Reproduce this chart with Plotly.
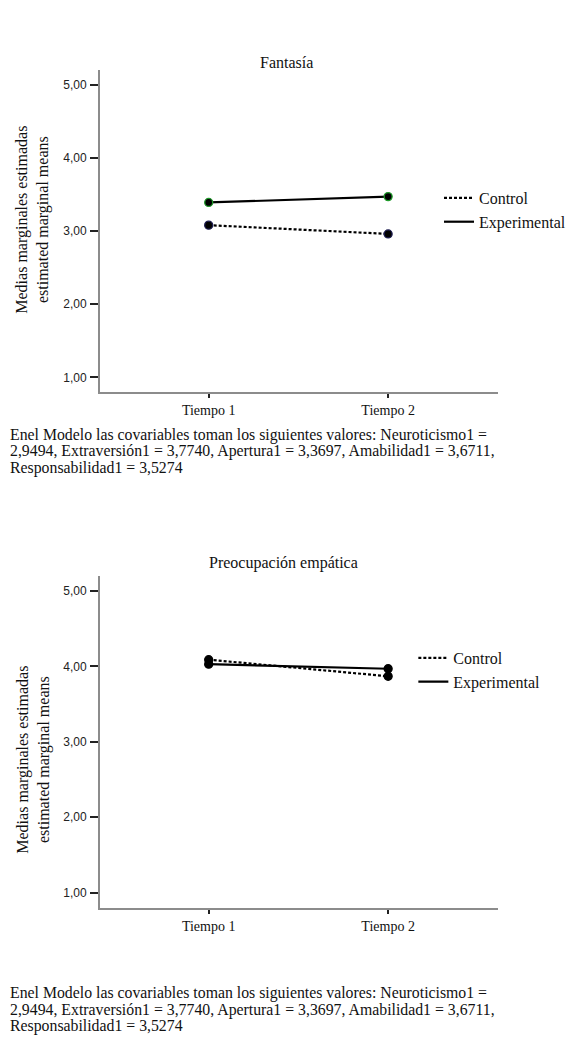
import plotly.graph_objects as go

tiempos = ["Tiempo 1", "Tiempo 2"]
grupos = ["Control", "Experimental"]

fant_control = [3.08, 2.96]
fant_experimental = [3.39, 3.47]

preoc_control = [4.09, 3.87]
preoc_experimental = [4.03, 3.97]

titulos = ["Fantasía", "Preocupación empática"]
y_ticks = [1, 2, 3, 4, 5]
nota_lineas = [
    "Enel Modelo las covariables toman los siguientes valores: Neuroticismo1 =",
    "2,9494, Extraversión1 = 3,7740, Apertura1 = 3,3697, Amabilidad1 = 3,6711,",
    "Responsabilidad1 = 3,5274",
]
ytitulo = "Medias marginales estimadas<br>estimated marginal means"

W, H = 571, 1041
SERIF = "Liberation Serif"
SANS = "Liberation Sans"

fig = go.Figure()


def py(p):
    return (H - p) / H


panels = [
    dict(ctrl=fant_control, exp=fant_experimental, xa="x", ya="y", leg="legend",
         ctrl_col="#1c1c50", exp_col="#1f9a2a"),
    dict(ctrl=preoc_control, exp=preoc_experimental, xa="x2", ya="y2", leg="legend2",
         ctrl_col="#000000", exp_col="#000000"),
]

for p in panels:
    for name, vals, dash, mcol in [(grupos[0], p["ctrl"], "3px,2px", p["ctrl_col"]),
                                   (grupos[1], p["exp"], "solid", p["exp_col"])]:
        fig.add_trace(go.Scatter(
            x=[0, 1], y=vals, mode="lines", name=name,
            xaxis=p["xa"], yaxis=p["ya"], legend=p["leg"],
            line=dict(color="#000000", width=2.2, dash=dash),
        ))
        fig.add_trace(go.Scatter(
            x=[0, 1], y=vals, mode="markers", name=name, showlegend=False,
            xaxis=p["xa"], yaxis=p["ya"],
            marker=dict(size=8, color="#000000", line=dict(color=mcol, width=1.3)),
        ))

x_dom = [101 / W, 502 / W]
line_common = dict(showgrid=False, zeroline=False, showline=True, linecolor="#8c8c8c",
                   linewidth=2, ticks="outside", tickcolor="#222222", tickwidth=2)
xfont = dict(family=SERIF, size=14, color="#111")
yfont = dict(family=SANS, size=12, color="#222")
legfont = dict(family=SERIF, size=16, color="#111")

fig.update_layout(
    width=W, height=H, margin=dict(l=0, r=0, t=0, b=0),
    paper_bgcolor="white", plot_bgcolor="white",
    separators=",.",
    showlegend=True,
    xaxis=dict(domain=x_dom, range=[-0.605, 1.61], tickvals=[0, 1], ticktext=tiempos,
               tickfont=xfont, anchor="y", ticklen=4, **line_common),
    yaxis=dict(domain=[py(392), py(70)], range=[0.8, 5.2], tickvals=y_ticks,
               tickformat=".2f", tickfont=yfont, anchor="x", ticklen=8,
               ticklabelstandoff=1, **line_common),
    xaxis2=dict(domain=x_dom, range=[-0.605, 1.61], tickvals=[0, 1], ticktext=tiempos,
                tickfont=xfont, anchor="y2", ticklen=4, **line_common),
    yaxis2=dict(domain=[py(907.7), py(576)], range=[0.8, 5.2], tickvals=y_ticks,
                tickformat=".2f", tickfont=yfont, anchor="x2", ticklen=8,
                ticklabelstandoff=1, **line_common),
    legend=dict(x=443 / W, y=py(181), xanchor="left", yanchor="top",
                font=legfont, itemwidth=30, tracegroupgap=0, bgcolor="rgba(0,0,0,0)"),
    legend2=dict(x=417 / W, y=py(641), xanchor="left", yanchor="top",
                 font=legfont, itemwidth=30, tracegroupgap=0, bgcolor="rgba(0,0,0,0)"),
)

annotations = [
    dict(text=titulos[0], x=289 / W, y=py(62), xref="paper", yref="paper",
         xanchor="center", yanchor="middle",
         showarrow=False, font=dict(family=SERIF, size=16, color="#111")),
    dict(text=titulos[1], x=286 / W, y=py(563), xref="paper", yref="paper",
         xanchor="center", yanchor="middle",
         showarrow=False, font=dict(family=SERIF, size=16, color="#111")),
    dict(text=ytitulo, x=33 / W, y=py(220), xref="paper", yref="paper", textangle=-90,
         xanchor="center", yanchor="middle",
         showarrow=False, font=dict(family=SERIF, size=16, color="#111")),
    dict(text=ytitulo, x=33 / W, y=py(760), xref="paper", yref="paper", textangle=-90,
         xanchor="center", yanchor="middle",
         showarrow=False, font=dict(family=SERIF, size=16, color="#111")),
]
for y0 in (435, 993):
    for i, t in enumerate(nota_lineas):
        annotations.append(dict(text=t, x=8 / W, y=py(y0 + 16.5 * i), xref="paper",
                                yref="paper", xanchor="left", yanchor="middle",
                                showarrow=False,
                                font=dict(family=SERIF, size=15.8, color="#111")))
fig.update_layout(annotations=annotations)

fig.write_html("out.html", config={"displayModeBar": False},
               post_script="document.body.style.margin='0px';")
